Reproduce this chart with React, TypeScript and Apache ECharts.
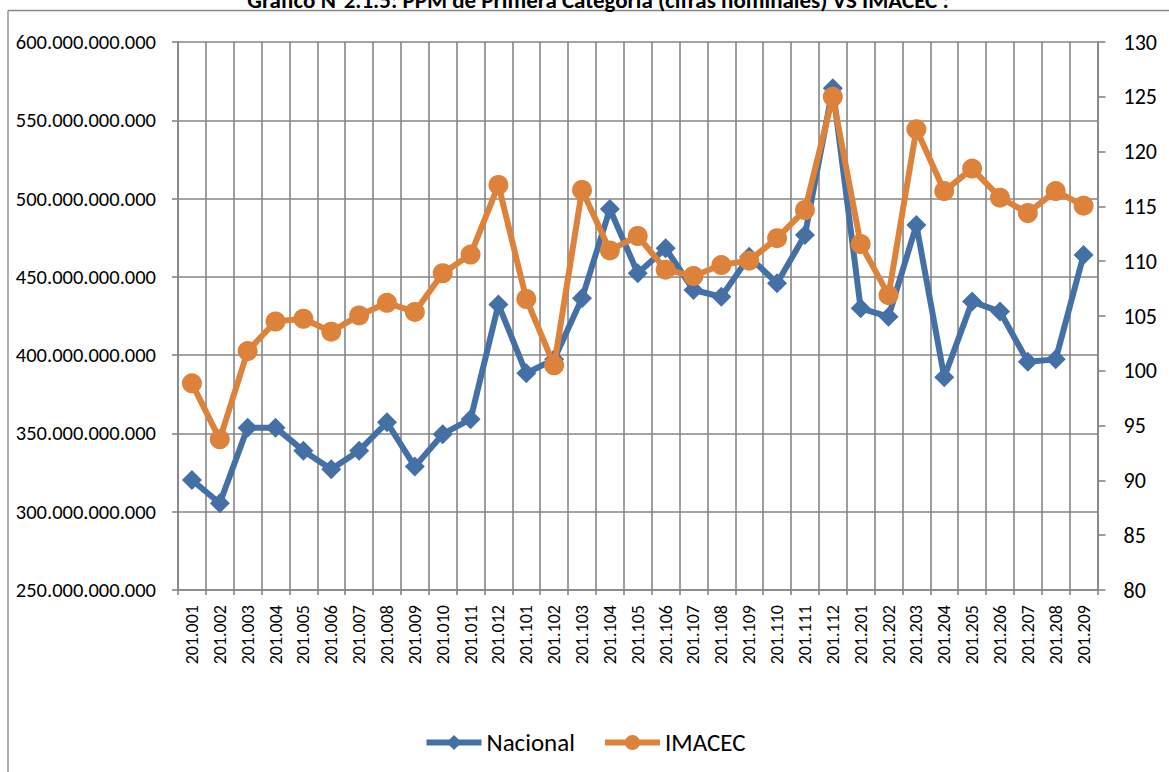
import React, { useEffect, useRef } from "react";
import * as echarts from "echarts";

const categories: string[] = [
  "201.001", "201.002", "201.003", "201.004", "201.005", "201.006", "201.007", "201.008", "201.009", "201.010", "201.011", "201.012",
  "201.101", "201.102", "201.103", "201.104", "201.105", "201.106", "201.107", "201.108", "201.109", "201.110", "201.111", "201.112",
  "201.201", "201.202", "201.203", "201.204", "201.205", "201.206", "201.207", "201.208", "201.209",
];

const nacional: number[] = [
  320.3e9, 305.4e9, 353.7e9, 353.7e9, 339.0e9, 327.1e9, 339.0e9, 357.1e9, 328.8e9, 349.5e9, 359.1e9, 432.3e9,
  388.4e9, 397.3e9, 436.3e9, 493.3e9, 452.3e9, 468.2e9, 441.6e9, 437.3e9, 462.9e9, 445.9e9, 476.7e9, 570.4e9,
  429.9e9, 424.6e9, 483.1e9, 385.9e9, 434.2e9, 427.8e9, 395.8e9, 397.3e9, 464.0e9,
];

const imacec: number[] = [
  98.86, 93.75, 101.8, 104.5, 104.75, 103.57, 105.05, 106.2, 105.37, 108.9, 110.6, 116.95,
  106.55, 100.5, 116.5, 110.98, 112.3, 109.23, 108.65, 109.65, 110.05, 112.1, 114.67, 125.0,
  111.57, 106.9, 122.03, 116.4, 118.45, 115.8, 114.4, 116.4, 115.07,
];

const seriesNames: string[] = ["Nacional", "IMACEC"];
const titleText = "Gráfico N°2.1.5: PPM de Primera Categoría (cifras nominales) VS IMACEC :";

const FONT = "Carlito, Lato, 'Open Sans', sans-serif";
const GRID_COLOR = "#868686";
const BLUE = "#4470A6";
const ORANGE = "#DC823B";

function fmtDots(v: number): string {
  return String(Math.round(v)).replace(/\B(?=(\d{3})+(?!\d))/g, ".");
}

export default function App() {
  const ref = useRef<HTMLDivElement>(null);
  useEffect(() => {
    if (!ref.current) return;
    const chart = echarts.init(ref.current, undefined, { renderer: "svg" });
    chart.setOption({
      animation: false,
      backgroundColor: "#fff",
      textStyle: { fontFamily: FONT },
      grid: { left: 178, right: 71.5, top: 42, bottom: 182, containLabel: false },
      graphic: [
        {
          type: "line",
          shape: { x1: 8, y1: 10.5, x2: 1169, y2: 10.5 },
          style: { stroke: GRID_COLOR, lineWidth: 1.3 },
          silent: true,
        },
        {
          type: "line",
          shape: { x1: 8, y1: 10.5, x2: 8, y2: 772 },
          style: { stroke: GRID_COLOR, lineWidth: 1.3 },
          silent: true,
        },
        {
          type: "text",
          x: 598,
          y: 11,
          style: {
            text: titleText,
            fontFamily: FONT,
            fontWeight: "bold",
            fontSize: 23,
            fill: "#000",
            align: "center",
            verticalAlign: "bottom",
          },
          silent: true,
        },
      ],
      legend: {
        data: seriesNames,
        left: "center",
        top: 725,
        itemWidth: 55,
        itemHeight: 19,
        itemGap: 27,
        lineStyle: { width: 6 },
        textStyle: { fontFamily: FONT, fontSize: 25, color: "#000" },
      },
      xAxis: {
        type: "category",
        data: categories,
        boundaryGap: true,
        axisLine: { show: true, lineStyle: { color: GRID_COLOR, width: 1.6 } },
        axisTick: { show: true, alignWithLabel: false, inside: false, length: 5, lineStyle: { color: GRID_COLOR, width: 1.6 } },
        splitLine: { show: true, lineStyle: { color: GRID_COLOR, width: 1.6 } },
        axisLabel: {
          rotate: 90,
          interval: 0,
          margin: 15,
          fontFamily: FONT,
          fontSize: 18,
          color: "#000",
        },
      },
      yAxis: [
        {
          type: "value",
          position: "left",
          min: 250e9,
          max: 600e9,
          interval: 50e9,
          axisLine: { show: true, lineStyle: { color: GRID_COLOR, width: 1.6 } },
          axisTick: { show: true, length: 6, lineStyle: { color: GRID_COLOR, width: 1.6 } },
          splitLine: { show: true, lineStyle: { color: GRID_COLOR, width: 1.6 } },
          axisLabel: {
            margin: 22,
            fontFamily: FONT,
            fontSize: 20.5,
            color: "#000",
            formatter: (v: number) => fmtDots(v),
          },
        },
        {
          type: "value",
          position: "right",
          min: 80,
          max: 130,
          interval: 5,
          axisLine: { show: true, lineStyle: { color: GRID_COLOR, width: 1.6 } },
          axisTick: { show: true, length: 8, lineStyle: { color: GRID_COLOR, width: 1.6 } },
          splitLine: { show: false },
          axisLabel: {
            margin: 26,
            fontFamily: FONT,
            fontSize: 22,
            color: "#000",
          },
        },
      ],
      series: [
        {
          name: seriesNames[0],
          type: "line",
          yAxisIndex: 0,
          data: nacional,
          symbol: "diamond",
          symbolSize: 20,
          showAllSymbol: true,
          lineStyle: { color: BLUE, width: 6 },
          itemStyle: { color: BLUE },
          z: 2,
        },
        {
          name: seriesNames[1],
          type: "line",
          yAxisIndex: 1,
          data: imacec,
          symbol: "circle",
          symbolSize: 20,
          showAllSymbol: true,
          lineStyle: { color: ORANGE, width: 6 },
          itemStyle: { color: ORANGE },
          z: 3,
        },
      ],
    });
    return () => chart.dispose();
  }, []);
  return (
    <div
      ref={ref}
      style={{ position: "absolute", left: 0, top: 0, width: 1169, height: 772 }}
    />
  );
}
